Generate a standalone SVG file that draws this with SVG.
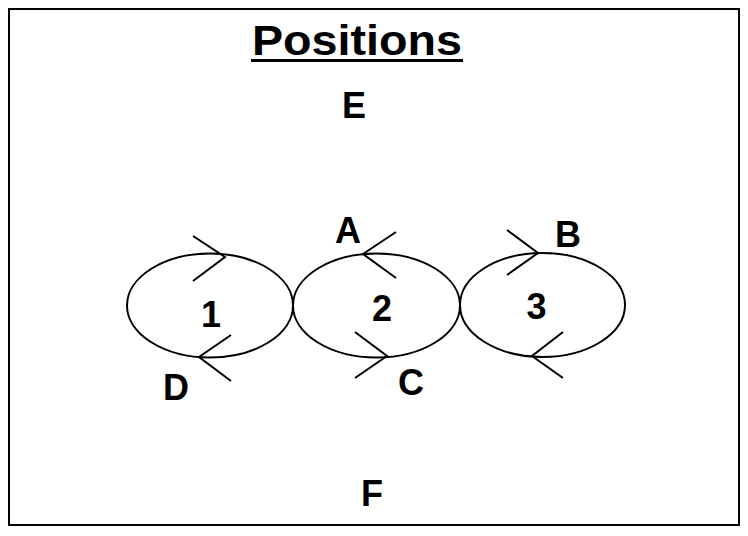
<svg xmlns="http://www.w3.org/2000/svg" width="748" height="536" viewBox="0 0 748 536">
<style>
.lbl{font-family:"Liberation Sans",Arial,sans-serif;font-weight:bold;font-size:36px;fill:#000;text-anchor:middle}
.title{font-family:"Liberation Sans",Arial,sans-serif;font-weight:bold;font-size:42px;fill:#000;text-anchor:middle}
.ell{fill:none;stroke:#000;stroke-width:2}
.chev{fill:none;stroke:#000;stroke-width:2}
</style>
<rect x="0" y="0" width="748" height="536" fill="#fff"/>
<rect x="9" y="9" width="730" height="516" fill="none" stroke="#000" stroke-width="2"/>
<g id="title">
<text class="title" x="357" y="55" textLength="210" lengthAdjust="spacingAndGlyphs">Positions</text>
<rect x="251" y="59" width="212" height="3" fill="#000"/>
</g>
<g id="node1">
<ellipse class="ell" cx="210" cy="305.5" rx="83" ry="52"/>
<text class="lbl" x="211" y="327">1</text>
</g>
<g id="node2">
<ellipse class="ell" cx="376.5" cy="305.5" rx="83.5" ry="52"/>
<text class="lbl" x="382" y="321">2</text>
</g>
<g id="node3">
<ellipse class="ell" cx="542.5" cy="305" rx="82.5" ry="52"/>
<text class="lbl" x="536.5" y="319">3</text>
</g>
<g id="connectors">
<polyline class="chev" points="193,236 225,257 193,281"/>
<polyline class="chev" points="231,335 199,357 231,381"/>
<polyline class="chev" points="396,232 363,254 396,278"/>
<polyline class="chev" points="355,332 387,356 355,378"/>
<polyline class="chev" points="507,230 538,253 507,275"/>
<polyline class="chev" points="563,332 532,356 563,378"/>
</g>
<g id="labels">
<text class="lbl" x="354" y="118">E</text>
<text class="lbl" x="348" y="243">A</text>
<text class="lbl" x="568" y="247">B</text>
<text class="lbl" x="411" y="395">C</text>
<text class="lbl" x="176" y="400">D</text>
<text class="lbl" x="372" y="506">F</text>
</g>
</svg>
